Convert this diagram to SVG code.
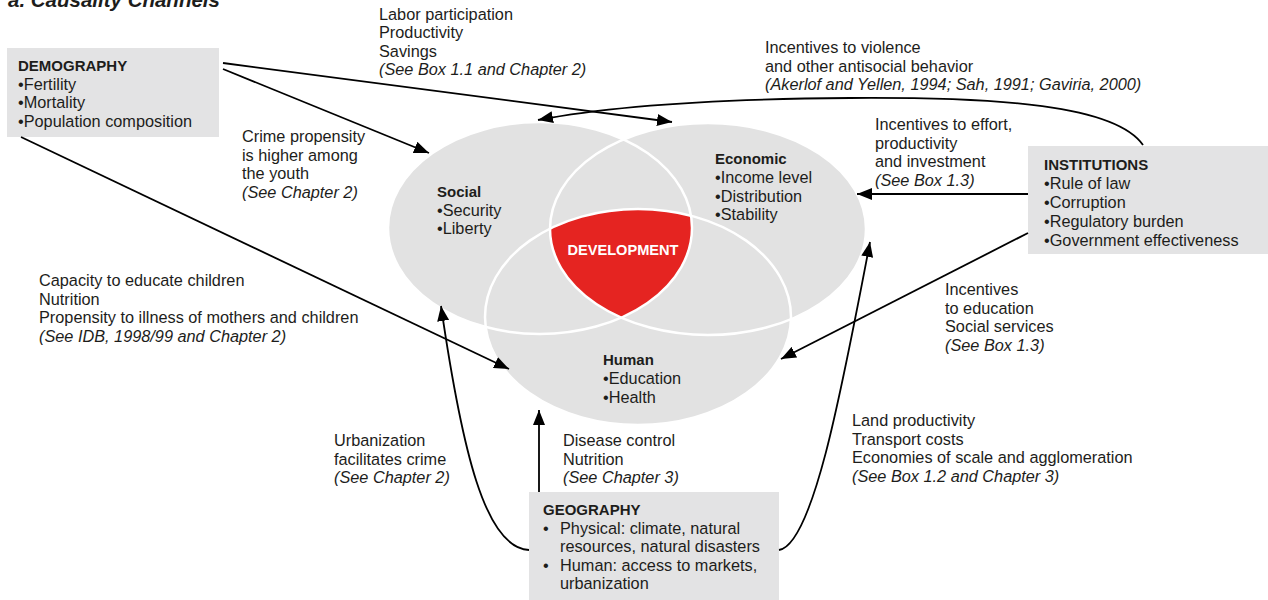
<svg xmlns="http://www.w3.org/2000/svg" width="1268" height="600" viewBox="0 0 1268 600">
<defs>
<style>
text { font-family: "Liberation Sans", Arial, sans-serif; font-size: 16.3px; fill: #1d1d1b; }
.b { font-weight: 700; font-size: 15px; }
.i { font-style: italic; }
.box { fill: #e3e3e4; }
.ell { fill: #e2e2e2; }
.outline { fill: none; stroke: #ffffff; stroke-width: 2.5; }
.conn { fill: none; stroke: #000000; stroke-width: 1.8; marker-end: url(#ah); }
.dev { fill: #ffffff; font-weight: 700; font-size: 14.6px; }
</style>
<marker id="ah" markerUnits="userSpaceOnUse" markerWidth="16" markerHeight="12" refX="15" refY="6" orient="auto"><path d="M0,0 L15,6 L0,12 z" fill="#000000"/></marker>
<clipPath id="cS"><ellipse cx="540" cy="228" rx="152" ry="106"/></clipPath>
<clipPath id="cE"><ellipse cx="708" cy="229" rx="158" ry="106"/></clipPath>
</defs>

<text x="8" y="7" style="font-size:20.5px; font-weight:700; font-style:italic">a. Causality Channels</text>

<g id="social">
<ellipse class="ell" cx="540" cy="228" rx="152" ry="106"/>
<text x="437" y="197" class="b">Social</text>
<text x="437" y="215.5">•Security</text>
<text x="437" y="234">•Liberty</text>
</g>

<g id="economic">
<ellipse class="ell" cx="708" cy="229" rx="158" ry="106"/>
<text x="715" y="164" class="b">Economic</text>
<text x="715" y="183">•Income level</text>
<text x="715" y="201.5">•Distribution</text>
<text x="715" y="220">•Stability</text>
</g>

<g id="human">
<ellipse class="ell" cx="638" cy="317" rx="153" ry="108"/>
<text x="603" y="365" class="b">Human</text>
<text x="603" y="384">•Education</text>
<text x="603" y="403">•Health</text>
</g>

<g id="development">
<g clip-path="url(#cS)"><g clip-path="url(#cE)"><ellipse cx="638" cy="317" rx="153" ry="108" fill="#e52421"/></g></g>
<text x="623" y="255" class="dev" text-anchor="middle">DEVELOPMENT</text>
</g>

<g id="venn-outlines">
<ellipse class="outline" cx="540" cy="228" rx="152" ry="106"/>
<ellipse class="outline" cx="708" cy="229" rx="158" ry="106"/>
<ellipse class="outline" cx="638" cy="317" rx="153" ry="108"/>
</g>

<g id="demography">
<rect class="box" x="7" y="48" width="212" height="89"/>
<text x="18" y="71" class="b">DEMOGRAPHY</text>
<text x="18" y="89.7">•Fertility</text>
<text x="18" y="108.3">•Mortality</text>
<text x="18" y="127">•Population composition</text>
</g>

<g id="institutions">
<rect class="box" x="1028" y="146" width="240" height="108"/>
<text x="1044" y="170" class="b">INSTITUTIONS</text>
<text x="1044" y="189">•Rule of law</text>
<text x="1044" y="208">•Corruption</text>
<text x="1044" y="227">•Regulatory burden</text>
<text x="1044" y="246">•Government effectiveness</text>
</g>

<g id="geography">
<rect class="box" x="529" y="492" width="250" height="108"/>
<text x="543" y="515" class="b">GEOGRAPHY</text>
<text x="543" y="533.5">•</text>
<text x="560" y="533.5">Physical: climate, natural</text>
<text x="560" y="552">resources, natural disasters</text>
<text x="543" y="570.5">•</text>
<text x="560" y="570.5">Human: access to markets,</text>
<text x="560" y="589">urbanization</text>
</g>

<g id="connectors">
<path class="conn" d="M223,63 L672,122"/>
<path class="conn" d="M223,69 L429,153"/>
<path class="conn" d="M21,137 L509,369"/>
<path class="conn" d="M1143,145 C1115,105 1000,97 850,98 S600,108 538,120"/>
<path class="conn" d="M1028,194 L857,194"/>
<path class="conn" d="M1028,233 L781,359"/>
<path class="conn" d="M539,492 L539,410"/>
<path class="conn" d="M529,550 C485,548 462,450 441,306"/>
<path class="conn" d="M779,550 C812,545 840,400 870,242"/>
</g>

<g id="labels">
<text x="379" y="19.5">Labor participation</text>
<text x="379" y="38">Productivity</text>
<text x="379" y="56.5">Savings</text>
<text x="379" y="75" class="i">(See Box 1.1 and Chapter 2)</text>

<text x="765" y="53">Incentives to violence</text>
<text x="765" y="71.5">and other antisocial behavior</text>
<text x="765" y="90" class="i">(Akerlof and Yellen, 1994; Sah, 1991; Gaviria, 2000)</text>

<text x="242" y="142">Crime propensity</text>
<text x="242" y="160.5">is higher among</text>
<text x="242" y="179">the youth</text>
<text x="242" y="197.5" class="i">(See Chapter 2)</text>

<text x="875" y="130">Incentives to effort,</text>
<text x="875" y="148.5">productivity</text>
<text x="875" y="167">and investment</text>
<text x="875" y="185.5" class="i">(See Box 1.3)</text>

<text x="39" y="286">Capacity to educate children</text>
<text x="39" y="304.5">Nutrition</text>
<text x="39" y="323">Propensity to illness of mothers and children</text>
<text x="39" y="341.5" class="i">(See IDB, 1998/99 and Chapter 2)</text>

<text x="945" y="295">Incentives</text>
<text x="945" y="313.5">to education</text>
<text x="945" y="332">Social services</text>
<text x="945" y="350.5" class="i">(See Box 1.3)</text>

<text x="334" y="446">Urbanization</text>
<text x="334" y="464.5">facilitates crime</text>
<text x="334" y="483" class="i">(See Chapter 2)</text>

<text x="563" y="446">Disease control</text>
<text x="563" y="464.5">Nutrition</text>
<text x="563" y="483" class="i">(See Chapter 3)</text>

<text x="852" y="426">Land productivity</text>
<text x="852" y="444.5">Transport costs</text>
<text x="852" y="463">Economies of scale and agglomeration</text>
<text x="852" y="481.5" class="i">(See Box 1.2 and Chapter 3)</text>
</g>
</svg>
